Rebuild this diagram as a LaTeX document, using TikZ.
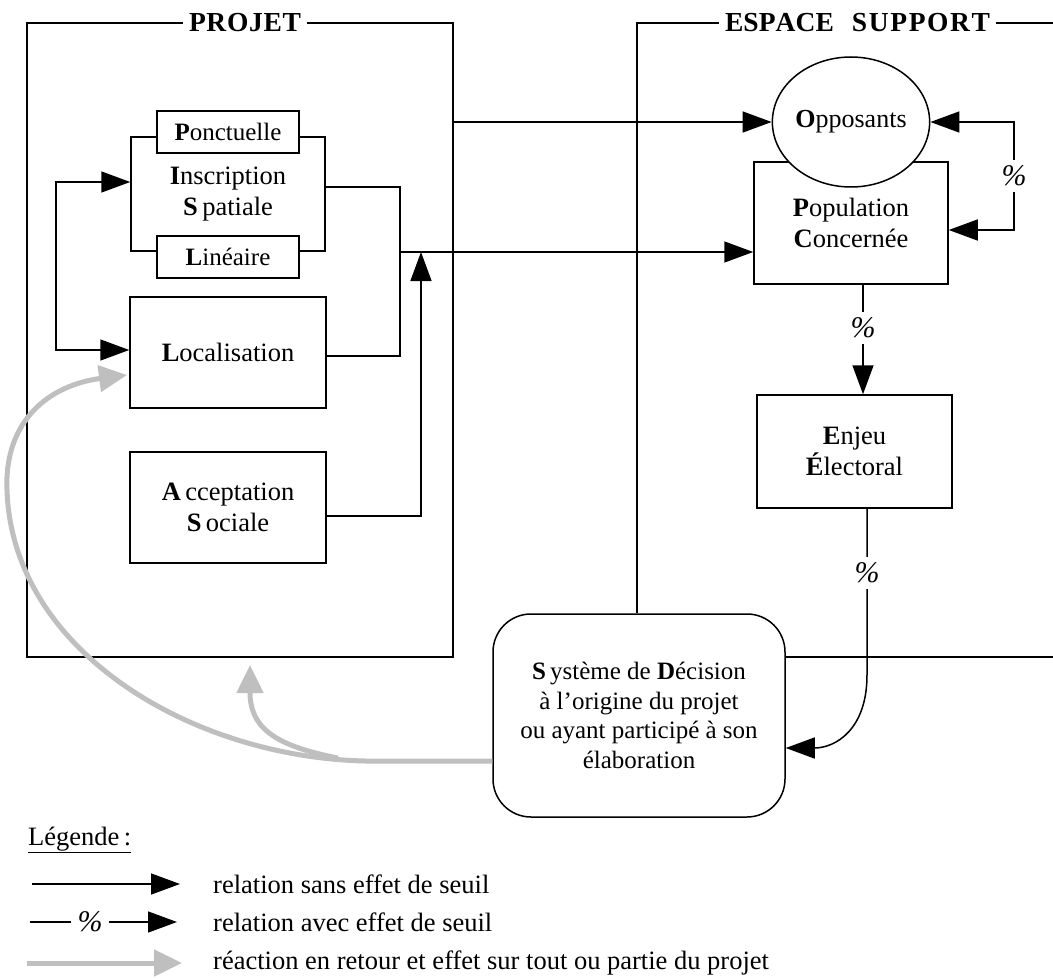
\documentclass[tikz,border=0pt]{standalone}
\usepackage{fontspec}
\setmainfont{Liberation Serif}
\usetikzlibrary{arrows.meta,shapes.geometric}
\newcommand\boxfont{\fontsize{26.5}{31}\selectfont}
\newcommand\legfont{\fontsize{26.5}{30}\selectfont}
\newcommand\titfont{\bfseries\fontsize{27.5}{27.5}\selectfont}
\begin{document}
\begin{tikzpicture}[x=1pt,y=-1pt,
  >={Triangle[length=29pt,width=21pt]},
  ln/.style={line width=1.5pt},
  box/.style={draw, line width=1.5pt, fill=white, align=center, inner sep=0pt, font=\boxfont},
  pct/.style={fill=white, inner xsep=7pt, inner ysep=6pt, font=\itshape\fontsize{30}{30}\selectfont},
  fb/.style={draw=gray!50, line width=5pt, -{Triangle[length=28pt,width=26pt]}},
  legt/.style={anchor=west, inner sep=0pt, font=\legfont},
  tit/.style={font=\titfont, inner sep=6pt}
]
\useasboundingbox (0,0) rectangle (1053,979);

% ---------- frames ----------
\node[tit] (tp) at (245,23) {\makebox[112pt][s]{P\hfil R\hfil O\hfil J\hfil E\hfil T}};
\draw[ln] (tp.west) -- (27,23) -- (27,657) -- (453,657) -- (453,23) -- (tp.east);

\node[tit] (te) at (857.5,23) {\makebox[109pt][s]{E\hfil S\hfil P\hfil A\hfil C\hfil E}\hspace{18pt}\makebox[138pt][s]{S\hfil U\hfil P\hfil P\hfil O\hfil R\hfil T}};

% ---------- nodes ----------
\node[box, minimum width=194pt, minimum height=114pt] (insc) at (228,194) {\textbf{I}nscription\\\textbf{S}\,patiale};
\node[box, minimum width=142pt, minimum height=42pt, font=\fontsize{25}{30}\selectfont] (ponc) at (228,132) {\textbf{P}onctuelle};
\node[box, minimum width=142pt, minimum height=42pt, font=\fontsize{25}{30}\selectfont] (lin) at (228,257) {\textbf{L}inéaire};
\node[box, minimum width=196pt, minimum height=111pt] (loc) at (228,352.5) {\textbf{L}ocalisation};
\node[box, minimum width=196pt, minimum height=111pt] (acc) at (228,507.5) {\textbf{A}\,cceptation\\\textbf{S}\,ociale};

\node[box, minimum width=194pt, minimum height=122pt] (pop) at (851,223) {\textbf{P}opulation\\\textbf{C}oncernée};
\node[box, ellipse, minimum width=126pt, minimum height=130pt, inner sep=0pt, font=\fontsize{26}{30}\selectfont] (opp) at (851,122) {\textbf{O}pposants};
\node[box, minimum width=195pt, minimum height=113pt] (enj) at (854.5,451.5) {\textbf{E}njeu\\\textbf{É}lectoral};
\node[box, rounded corners=38pt, minimum width=292pt, minimum height=203pt, font=\fontsize{25}{29.5}\selectfont] (dec) at (639,715.5)
  {\textbf{S}\,ystème de \textbf{D}écision\\à l’origine du projet\\ou ayant participé à son\\élaboration};

% ESPACE SUPPORT frame
\coordinate (eL) at (637,23);
\coordinate (eR) at (1053,23);
\coordinate (eB) at (1053,657);
\draw[ln] (te.west) -- (eL) -- (eL |- dec.north);
\draw[ln] (te.east) -- (eR);
\draw[ln] (dec.east |- eB) -- (eB);

% ---------- connectors ----------
\coordinate (lbA) at (56,182);
\coordinate (lbB) at (56,350);
\draw[ln,<->] (insc.west |- lbA) -- (lbA) -- (lbB) -- (loc.west |- lbB);

\coordinate (rbA) at (400,187);
\coordinate (rbB) at (400,356);
\coordinate (rbC) at (400,252);
\draw[ln] (insc.east |- rbA) -- (rbA) -- (rbB) -- (loc.east |- rbB);
\draw[ln,->] (rbC) -- (pop.west |- rbC);

\coordinate (abA) at (421,516);
\draw[ln,->] (acc.east |- abA) -- (abA) -- (abA |- rbC);

\coordinate (pR) at (453,122);
\draw[ln,->] (pR) -- (opp.west);

\coordinate (lpA) at (1014,122);
\coordinate (lpB) at (1014,230);
\draw[ln,<->] (opp.east) -- (lpA) -- (lpB) -- (pop.east |- lpB);
\node[pct] (pc1) at (1014,176) {\%};

\coordinate (peX) at (863,0);
\draw[ln,->] (pop.south -| peX) -- (enj.north -| peX);
\node[pct] (pc2) at (863,328) {\%};

\coordinate (edA) at (867,675);
\coordinate (edT) at (0,748);
\draw[ln,->] (enj.south -| edA) -- (edA) .. controls (867,730) and (835,748) .. (dec.east |- edT);
\node[pct] (pc3) at (867,573) {\%};

% grey feedback
\coordinate (gA) at (365,761);
\coordinate (gT) at (127,375);
\coordinate (gS) at (338,758);
\coordinate (gU) at (250,665);
\draw[fb] (dec.west |- gA) -- (gA) .. controls (190,757) and (12,650) .. (7,490) .. controls (4,420) and (50,385) .. (gT);
\draw[fb] (gS) .. controls (270,745) and (250,725) .. (gU);

% ---------- legend ----------
\node[anchor=base west, inner sep=0pt, font=\legfont] (leg) at (28,845) {\underline{Légende\,:}};

\coordinate (l1a) at (32,884);
\coordinate (l1b) at (180,884);
\draw[ln,->] (l1a) -- (l1b);
\node[legt] (t1) at (213,884) {relation sans effet de seuil};

\coordinate (l2a) at (30,922);
\coordinate (l2b) at (177,922);
\draw[ln,->] (l2a) -- (l2b);
\node[pct] (pc4) at (90,922) {\%};
\node[legt] (t2) at (213,922) {relation avec effet de seuil};

\coordinate (l3a) at (27,963);
\coordinate (l3b) at (182,963);
\draw[fb] (l3a) -- (l3b);
\node[legt] (t3) at (213,963) {réaction en retour et effet sur tout ou partie du projet};
\end{tikzpicture}
\end{document}
